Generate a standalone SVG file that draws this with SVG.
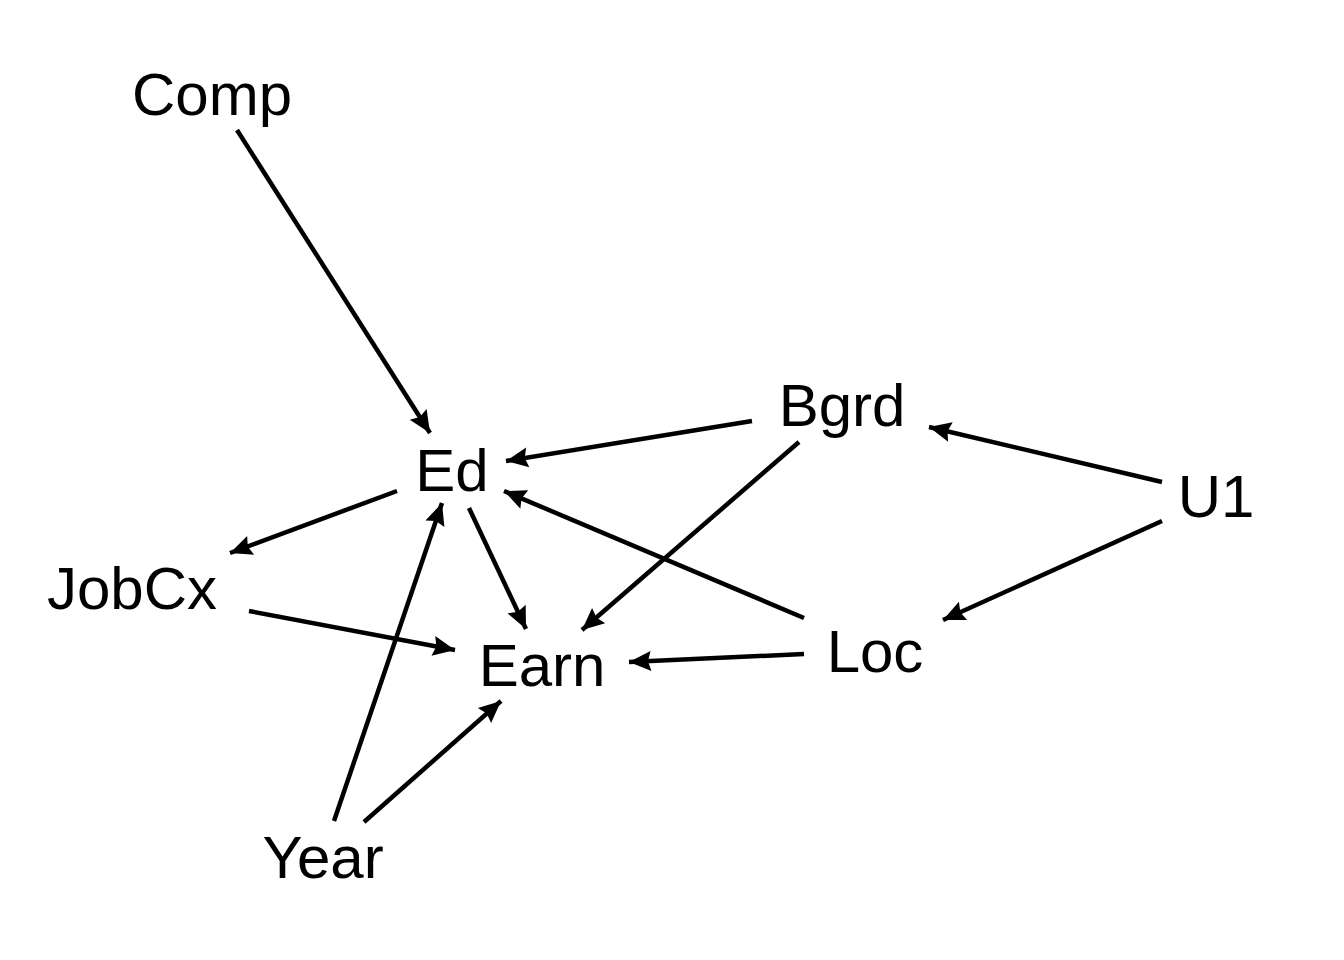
<svg xmlns="http://www.w3.org/2000/svg" width="1344" height="960" viewBox="0 0 1344 960">
<style>
.lbl{font-family:"Liberation Sans",Arial,sans-serif;font-size:60px;fill:#000;text-anchor:middle}
.e{stroke:#000;stroke-width:4.5;fill:none;marker-end:url(#ah)}
</style>
<defs>
<marker id="ah" markerUnits="userSpaceOnUse" markerWidth="26" markerHeight="24" viewBox="0 0 26 24" refX="22" refY="12" orient="auto" overflow="visible">
<path d="M0,2 L22,12 L0,22 L3,12 Z" fill="#000"/>
</marker>
</defs>
<rect width="1344" height="960" fill="#fff"/>
<g id="connectors">
<line class="e" x1="237" y1="130" x2="430" y2="433"/>
<line class="e" x1="752" y1="421" x2="506" y2="461"/>
<line class="e" x1="1162" y1="482" x2="929" y2="427"/>
<line class="e" x1="1162" y1="521" x2="943" y2="620"/>
<line class="e" x1="397" y1="491" x2="230" y2="553"/>
<line class="e" x1="469" y1="508" x2="526" y2="629"/>
<line class="e" x1="799" y1="442" x2="582" y2="630"/>
<line class="e" x1="804" y1="618" x2="504" y2="491"/>
<line class="e" x1="249" y1="611" x2="455" y2="650"/>
<line class="e" x1="804" y1="654" x2="629" y2="662"/>
<line class="e" x1="334" y1="821" x2="442" y2="503"/>
<line class="e" x1="364" y1="822" x2="501" y2="701"/>
</g>
<g id="Comp"><text class="lbl" x="212" y="115">Comp</text></g>
<g id="Ed"><text class="lbl" x="452" y="491">Ed</text></g>
<g id="Bgrd"><text class="lbl" x="842" y="426">Bgrd</text></g>
<g id="U1"><text class="lbl" x="1216" y="517">U1</text></g>
<g id="JobCx"><text class="lbl" x="132" y="609">JobCx</text></g>
<g id="Earn"><text class="lbl" x="542" y="686">Earn</text></g>
<g id="Loc"><text class="lbl" x="875" y="672">Loc</text></g>
<g id="Year"><text class="lbl" x="323" y="878">Year</text></g>
</svg>
